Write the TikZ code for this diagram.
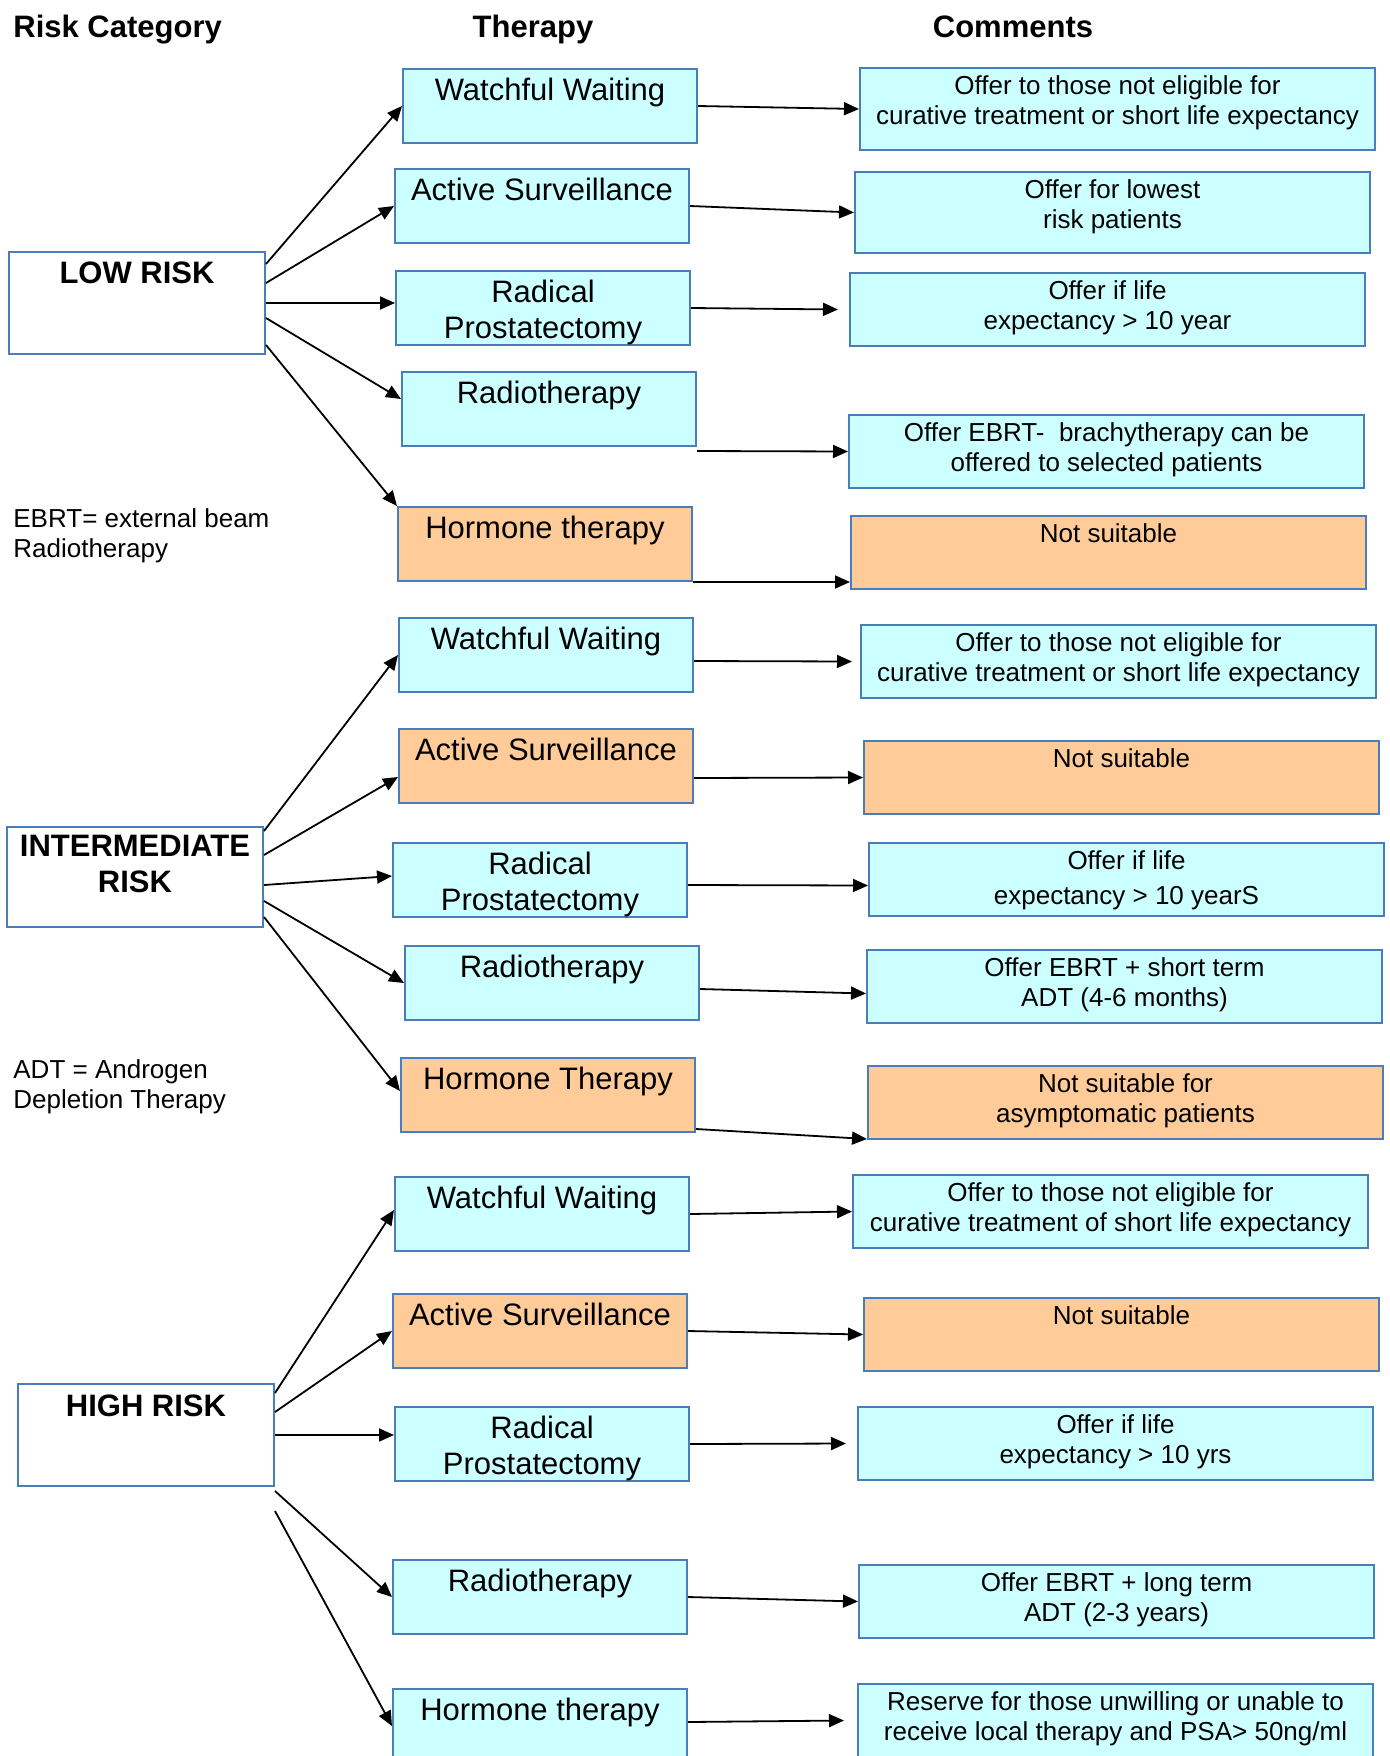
\documentclass[tikz,border=0pt]{standalone}
\usepackage{fontspec}
\setmainfont{Liberation Sans}
\usepackage{xcolor}
\usetikzlibrary{shapes, arrows.meta, positioning}

\definecolor{boxblue}{HTML}{4A7EBB}
\definecolor{cyanfill}{HTML}{CCFFFF}
\definecolor{orangefill}{HTML}{FFCC99}

\begin{document}
\begin{tikzpicture}[x=0.5pt, y=-0.5pt,
        box/.style={rectangle, draw=boxblue, line width=1pt, anchor=north west, inner xsep=0pt, inner ysep=0pt, align=center},
        bigtxt/.style={font=\fontsize{15.5}{18}\selectfont, text height=15.5pt, text depth=21.5pt},
        smalltxt/.style={font=\fontsize{13}{15}\selectfont, text height=13pt, text depth=23.5pt},
        risk/.style={box, fill=white, minimum width=128pt, font=\bfseries\fontsize{15.5}{18}\selectfont, text height=15.5pt, text depth=35.5pt},
        therapy/.style={box, bigtxt, fill=cyanfill, minimum width=147pt},
        ttwo/.style={text height=33.5pt, text depth=3.5pt},
        comment/.style={box, smalltxt, fill=cyanfill, minimum width=257.5pt},
        ctwo/.style={text height=28pt, text depth=8.5pt},
        bad/.style={fill=orangefill},
        head/.style={inner sep=0pt, font=\bfseries\fontsize{15.5}{18}\selectfont},
        note/.style={inner sep=0pt, anchor=north west, align=left, font=\fontsize{13}{15}\selectfont, text height=25pt},
        arr/.style={-{Triangle[length=7.5pt, width=6.5pt]}, line width=0.9pt}]
        \useasboundingbox (0,0) rectangle (1389,1756);
        \clip (0,0) rectangle (1389,1756);

        % column heads
        \node [head, anchor=base west] (hrisk) at (13, 38) {Risk Category};
        \node [head, anchor=base] (htherapy) at (533, 38) {Therapy};
        \node [head, anchor=base] (hcomment) at (1013, 38) {Comments};

        % low risk
        \node [risk] (low) at (8, 251) {LOW RISK};
        \node [therapy] (ww1) at (402, 68) {Watchful Waiting};
        \node [therapy] (as1) at (394, 168) {Active Surveillance};
        \node [therapy, ttwo] (rp1) at (395, 270) {Radical\\Prostatectomy};
        \node [therapy] (rt1) at (401, 371) {Radiotherapy};
        \node [therapy, bad] (ht1) at (397, 506) {Hormone therapy};
        \node [comment, ctwo, text depth=13pt] (c1) at (859, 67) {Offer to those not eligible for\\curative treatment or short life expectancy};
        \node [comment, ctwo, text depth=12.5pt] (c2) at (854, 171) {Offer for lowest\\risk patients};
        \node [comment, ctwo] (c3) at (849, 272) {Offer if life\\expectancy > 10 year};
        \node [comment, ctwo] (c4) at (848, 414) {Offer EBRT-\ \ brachytherapy can be\\offered to selected patients};
        \node [comment, bad] (c5) at (850, 515) {Not suitable};
        \node [note] (ebrt) at (13, 507) {EBRT= external beam\\Radiotherapy};

        \path ([yshift=19.5pt]low.east) edge[arr] (ww1.west);
        \path ([yshift=10pt]low.east) edge[arr] (as1.west);
        \path (low.east) edge[arr] (low.east -| rp1.west);
        \path ([yshift=-7.5pt]low.east) edge[arr] ([yshift=5pt]rt1.west);
        \path ([yshift=-21pt]low.east) edge[arr] (ht1.north west);
        \path (ww1.east) edge[arr] (c1.west);
        \path (as1.east) edge[arr] (c2.west);
        \path (rp1.east) edge[arr] ([xshift=-5.5pt]c3.west);
        \path ([yshift=-2pt]rt1.south east) edge[arr] (c4.west);
        \path (ht1.south east) edge[arr] ([yshift=4pt]c5.south west);

        % intermediate risk
        \node [risk, text height=32.5pt, text depth=17.5pt] (int) at (6, 826) {INTERMEDIATE\\RISK};
        \node [therapy] (ww2) at (398, 617) {Watchful Waiting};
        \node [therapy, bad] (as2) at (398, 728) {Active Surveillance};
        \node [therapy, ttwo] (rp2) at (392, 842) {Radical\\Prostatectomy};
        \node [therapy] (rt2) at (404, 945) {Radiotherapy};
        \node [therapy, bad] (ht2) at (400, 1057) {Hormone Therapy};
        \node [comment, ctwo] (c6) at (860, 624) {Offer to those not eligible for\\curative treatment or short life expectancy};
        \node [comment, bad] (c7) at (863, 740) {Not suitable};
        \node [comment, text height=30.5pt, text depth=6pt] (c8) at (868, 842) {Offer if life\\[2.5pt]expectancy > 10 yearS};
        \node [comment, ctwo] (c9) at (866, 949) {Offer EBRT + short term\\ADT (4-6 months)};
        \node [comment, ctwo, bad] (c10) at (867, 1065) {Not suitable for\\asymptomatic patients};
        \node [note] (adt) at (13, 1058) {ADT = Androgen\\Depletion Therapy};

        \path ([yshift=23pt]int.east) edge[arr] (ww2.west);
        \path ([yshift=11pt]int.east) edge[arr] ([yshift=-5.5pt]as2.west);
        \path ([yshift=-4pt]int.east) edge[arr] ([yshift=2pt]rp2.west);
        \path ([yshift=-12pt]int.east) edge[arr] (rt2.west);
        \path ([yshift=-20pt]int.east) edge[arr] ([yshift=2pt]ht2.west);
        \path ([yshift=-3pt]ww2.east) edge[arr] ([xshift=-4pt]c6.west);
        \path ([yshift=-6pt]as2.east) edge[arr] (c7.west);
        \path ([yshift=-2.5pt]rp2.east) edge[arr] ([yshift=-3pt]c8.west);
        \path ([yshift=-3pt]rt2.east) edge[arr] ([yshift=-3.5pt]c9.west);
        \path ([yshift=2pt]ht2.south east) edge[arr] ([yshift=0.5pt]c10.south west);

        % high risk
        \node [risk, text height=16pt, text depth=35pt] (high) at (17, 1383) {HIGH RISK};
        \node [therapy] (ww3) at (394, 1176) {Watchful Waiting};
        \node [therapy, bad] (as3) at (392, 1293) {Active Surveillance};
        \node [therapy, ttwo] (rp3) at (394, 1406) {Radical\\Prostatectomy};
        \node [therapy] (rt3) at (392, 1559) {Radiotherapy};
        \node [therapy] (ht3) at (392, 1688) {Hormone therapy};
        \node [comment, ctwo] (c11) at (852, 1174) {Offer to those not eligible for\\curative treatment of short life expectancy};
        \node [comment, bad] (c12) at (863, 1297) {Not suitable};
        \node [comment, ctwo] (c13) at (857, 1406) {Offer if life\\expectancy > 10 yrs};
        \node [comment, ctwo] (c14) at (858, 1564) {Offer EBRT + long term\\ADT (2-3 years)};
        \node [comment, ctwo] (c15) at (857, 1683) {Reserve for those unwilling or unable to\\receive local therapy and PSA> 50ng/ml};

        \path ([yshift=21pt]high.east) edge[arr] ([yshift=2pt]ww3.west);
        \path ([yshift=11.5pt]high.east) edge[arr] (as3.west);
        \path (high.east) edge[arr] (high.east -| rp3.west);
        \path ([yshift=-28pt]high.east) edge[arr] (rt3.west);
        \path ([yshift=-38pt]high.east) edge[arr] (ht3.west);
        \path (ww3.east) edge[arr] (c11.west);
        \path (as3.east) edge[arr] (c12.west);
        \path (rp3.east) edge[arr] ([xshift=-5.5pt]c13.west);
        \path (rt3.east) edge[arr] (c14.west);
        \path ([yshift=2pt]ht3.east) edge[arr] ([xshift=-6.5pt]c15.west);
    \end{tikzpicture}
\end{document}
